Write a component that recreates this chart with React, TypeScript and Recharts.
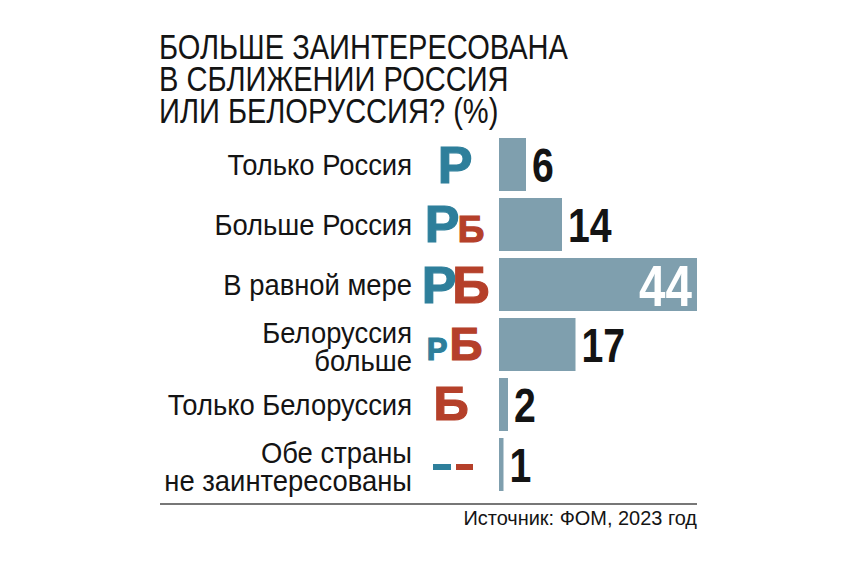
import React from 'react';
import { BarChart, Bar, XAxis, YAxis, LabelList } from 'recharts';

const titleLines = ['БОЛЬШЕ ЗАИНТЕРЕСОВАНА', 'В СБЛИЖЕНИИ РОССИЯ', 'ИЛИ БЕЛОРУССИЯ? (%)'];
const categories = [
  'Только Россия',
  'Больше Россия',
  'В равной мере',
  'Белоруссия больше',
  'Только Белоруссия',
  'Обе страны не заинтересованы',
];
const labelLines = [
  ['Только Россия'],
  ['Больше Россия'],
  ['В равной мере'],
  ['Белоруссия', 'больше'],
  ['Только Белоруссия'],
  ['Обе страны', 'не заинтересованы'],
];
const values = [6, 14, 44, 17, 2, 1];
const icons = ['R', 'Rb', 'RB', 'rB', 'B', '--'];
const sourceText = 'Источник: ФОМ, 2023 год';

const data = categories.map((name, i) => ({
  name,
  value: values[i],
  lines: labelLines[i],
  icon: icons[i],
}));

const SANS = "'Liberation Sans', Arial, sans-serif";
const TEAL = '#2e7f9b';
const RED = '#b5402a';
const BAR = '#7f9fae';
const INK = '#141414';

const NText = ({ x, y, anchor = 'start', size, weight = 400, fill = INK, sx = 0.84, children }: any) => (
  <text
    transform={`translate(${x},${y}) scale(${sx},1)`}
    x={0}
    y={0}
    textAnchor={anchor}
    fontFamily={SANS}
    fontWeight={weight}
    fontSize={size}
    fill={fill}
  >
    {children}
  </text>
);

const Letter = ({ x, y, ch, size, color }: any) => (
  <text x={x} y={y} textAnchor="middle" fontFamily={SANS} fontWeight={700} fontSize={size} fill={color}
    stroke={color} strokeWidth={1.2}>
    {ch}
  </text>
);

const renderIcon = (icon: string, x: number, y: number) => {
  switch (icon) {
    case 'R':
      return <Letter x={x - 44} y={y + 19} ch="Р" size={52} color={TEAL} />;
    case 'Rb':
      return (
        <g>
          <Letter x={x - 57} y={y + 18} ch="Р" size={52} color={TEAL} />
          <Letter x={x - 28} y={y + 18} ch="Б" size={37} color={RED} />
        </g>
      );
    case 'RB':
      return (
        <g>
          <Letter x={x - 60} y={y + 19} ch="Р" size={52} color={TEAL} />
          <Letter x={x - 28} y={y + 19} ch="Б" size={52} color={RED} />
        </g>
      );
    case 'rB':
      return (
        <g>
          <Letter x={x - 62} y={y + 16} ch="Р" size={31} color={TEAL} />
          <Letter x={x - 33} y={y + 16} ch="Б" size={46} color={RED} />
        </g>
      );
    case 'B':
      return <Letter x={x - 48} y={y + 16} ch="Б" size={49} color={RED} />;
    case '--':
      return (
        <g>
          <rect x={x - 66} y={y} width={18} height={6} fill={TEAL} />
          <rect x={x - 43} y={y} width={17} height={6} fill={RED} />
        </g>
      );
    default:
      return null;
  }
};

const CategoryTick = (props: any) => {
  const { x, y, index } = props;
  const d = data[index];
  const lines: string[] = d.lines;
  const firstBaseline = lines.length === 1 ? y + 11 : y - 1.5;
  return (
    <g>
      {lines.map((ln, i) => (
        <NText key={i} x={x - 87} y={firstBaseline + i * 28} anchor="end" size={29} sx={0.945}>
          {ln}
        </NText>
      ))}
      {renderIcon(d.icon, x, y)}
    </g>
  );
};

const ValueLabel = (props: any) => {
  const { x, y, width, height, value } = props;
  const cy = y + height / 2;
  if (value >= 40) {
    return (
      <NText x={x + width - 5} y={cy + 21} anchor="end" size={58} weight={700} fill="#ffffff" sx={0.82}>
        {value}
      </NText>
    );
  }
  return (
    <NText x={x + width + 6} y={cy + 17.5} anchor="start" size={49} weight={700} sx={0.8}>
      {value}
    </NText>
  );
};

export default function App() {
  return (
    <div style={{ position: 'absolute', left: 0, top: 0, width: 868, height: 576, background: '#ffffff' }}>
      <BarChart
        width={868}
        height={576}
        data={data}
        layout="vertical"
        margin={{ top: 134, right: 171, bottom: 82, left: 0 }}
        barCategoryGap={0}
      >
        <XAxis type="number" domain={[0, 44]} hide />
        <YAxis
          type="category"
          dataKey="name"
          width={499}
          axisLine={false}
          tickLine={false}
          tickSize={0}
          tickMargin={0}
          tick={<CategoryTick />}
          interval={0}
        />
        <Bar dataKey="value" fill={BAR} barSize={53} isAnimationActive={false}>
          <LabelList dataKey="value" content={<ValueLabel />} />
        </Bar>
      </BarChart>
      <svg width={868} height={576} style={{ position: 'absolute', left: 0, top: 0, pointerEvents: 'none' }}>
        {titleLines.map((t, i) => (
          <NText key={i} x={159} y={59 + i * 32} size={35} sx={0.83}>
            {t}
          </NText>
        ))}
        <line x1={160} x2={697} y1={504} y2={504} stroke="#4a4a4a" strokeWidth={1.5} />
        <NText x={697} y={525} anchor="end" size={21} sx={0.95}>
          {sourceText}
        </NText>
      </svg>
    </div>
  );
}
